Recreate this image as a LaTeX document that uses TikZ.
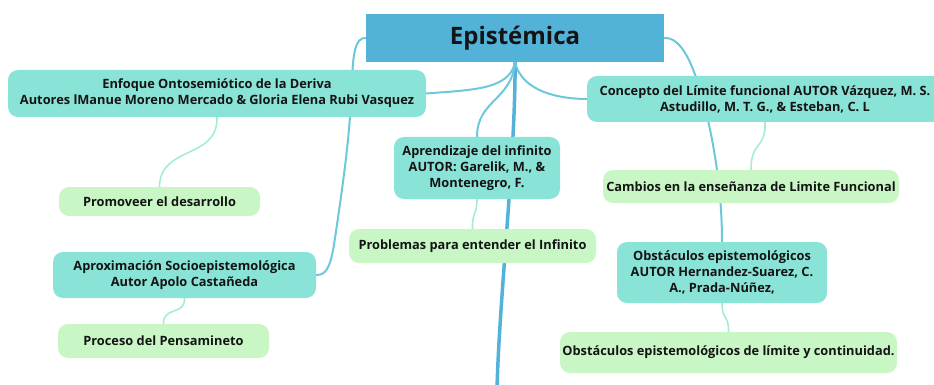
\documentclass[tikz,border=0pt]{standalone}
\usepackage{fontspec}
\setmainfont{Open Sans}
\usepackage{tikz}
\usetikzlibrary{backgrounds}

\definecolor{mainblue}{HTML}{53B2D8}
\definecolor{branchteal}{HTML}{8AE3D7}
\definecolor{leafgreen}{HTML}{C8F7C5}
\definecolor{linkcol}{HTML}{6CC8DA}
\definecolor{sublinkcol}{HTML}{A6EDCF}
\definecolor{txt}{HTML}{141414}

\tikzset{
  topic/.style={fill=mainblue, text=txt, font=\fontsize{24}{28}\selectfont\bfseries,
    minimum width=298pt, minimum height=48pt, inner sep=0pt},
  branch/.style={fill=branchteal, text=txt, rounded corners=10pt, align=center,
    font=\fontsize{12.8}{16}\selectfont\bfseries, inner sep=0pt},
  leaf/.style={fill=leafgreen, text=txt, rounded corners=10pt, align=center,
    font=\fontsize{12.8}{16}\selectfont\bfseries, inner sep=0pt},
  link/.style={draw=linkcol, line width=2pt, line cap=round},
  sublink/.style={draw=sublinkcol, line width=1.6pt, line cap=round},
  trunk/.style={draw=mainblue, line width=3.5pt}
}

\begin{document}
\begin{tikzpicture}[x=1pt,y=-1pt]
\useasboundingbox (0,0) rectangle (934,385);

% Central topic
\node[topic] (episte) at (515,38) {Epistémica};

% Left side
\node[branch, minimum width=418pt, minimum height=47pt] (enfoque) at (217,93.5)
  {Enfoque Ontosemiótico de la Deriva\\Autores lManue Moreno Mercado \& Gloria Elena Rubi Vasquez};
\node[leaf, minimum width=201pt, minimum height=29pt] (promo) at (159.5,201.5) {Promoveer el desarrollo};
\node[branch, minimum width=263pt, minimum height=46pt] (aprox) at (184.5,275)
  {Aproximación Socioepistemológica\\Autor Apolo Castañeda};
\node[leaf, minimum width=211pt, minimum height=34pt] (proceso) at (163.5,341) {Proceso del Pensamineto};

% Middle
\node[branch, minimum width=166pt, minimum height=62pt] (aprend) at (477,168)
  {Aprendizaje del infinito\\AUTOR: Garelik, M., \&\\Montenegro, F.};
\node[leaf, minimum width=247pt, minimum height=34pt] (problemas) at (472.5,246)
  {Problemas para entender el Infinito};

% Right side
\node[branch, minimum width=356pt, minimum height=46pt] (concepto) at (765,99)
  {Concepto del Límite funcional AUTOR Vázquez, M. S.\\Astudillo, M. T. G., \& Esteban, C. L};
\node[leaf, minimum width=296pt, minimum height=33pt] (cambios) at (751,186.5)
  {Cambios en la enseñanza de Limite Funcional};
\node[branch, minimum width=210pt, minimum height=61pt] (obst) at (722,272.5)
  {Obstáculos epistemológicos\\AUTOR Hernandez-Suarez, C.\\A., Prada-Núñez,};
\node[leaf, minimum width=337pt, minimum height=41pt] (obstlim) at (728.5,352.5)
  {Obstáculos epistemológicos de límite y continuidad.};

\coordinate (down) at (497,390);

% Connectors
\begin{scope}[on background layer]
\draw[trunk] (episte.south) .. controls (516,150) and (499,300) .. (down);
\draw[link] (episte.south) .. controls (510,90) and (470,90) .. (enfoque.east);
\draw[link] (episte.south) .. controls (512,100) and (477,100) .. (aprend.north);
\draw[link] (episte.south) .. controls (522,92) and (560,99) .. (concepto.west);
\draw[link] (episte.west) .. controls (355,37) and (353,55) .. (352,80)
  .. controls (350,140) and (342,190) .. (334,245)
  .. controls (330,268) and (326,275) .. (aprox.east);
\draw[link] (episte.east) .. controls (680,37) and (690,60) .. (697,80)
  .. controls (710,120) and (722,180) .. (obst.north);

\draw[sublink] (enfoque.south) .. controls (218,160) and (160,145) .. (promo.north);
\draw[sublink] (aprox.south) .. controls (185,316) and (163,306) .. (proceso.north);
\draw[sublink] (aprend.south) .. controls (477,215) and (472,212) .. (problemas.north);
\draw[sublink] (concepto.south) .. controls (766,150) and (751,140) .. (cambios.north);
\draw[sublink] (obst.south) .. controls (722,320) and (729,315) .. (obstlim.north);
\end{scope}

\end{tikzpicture}
\end{document}
